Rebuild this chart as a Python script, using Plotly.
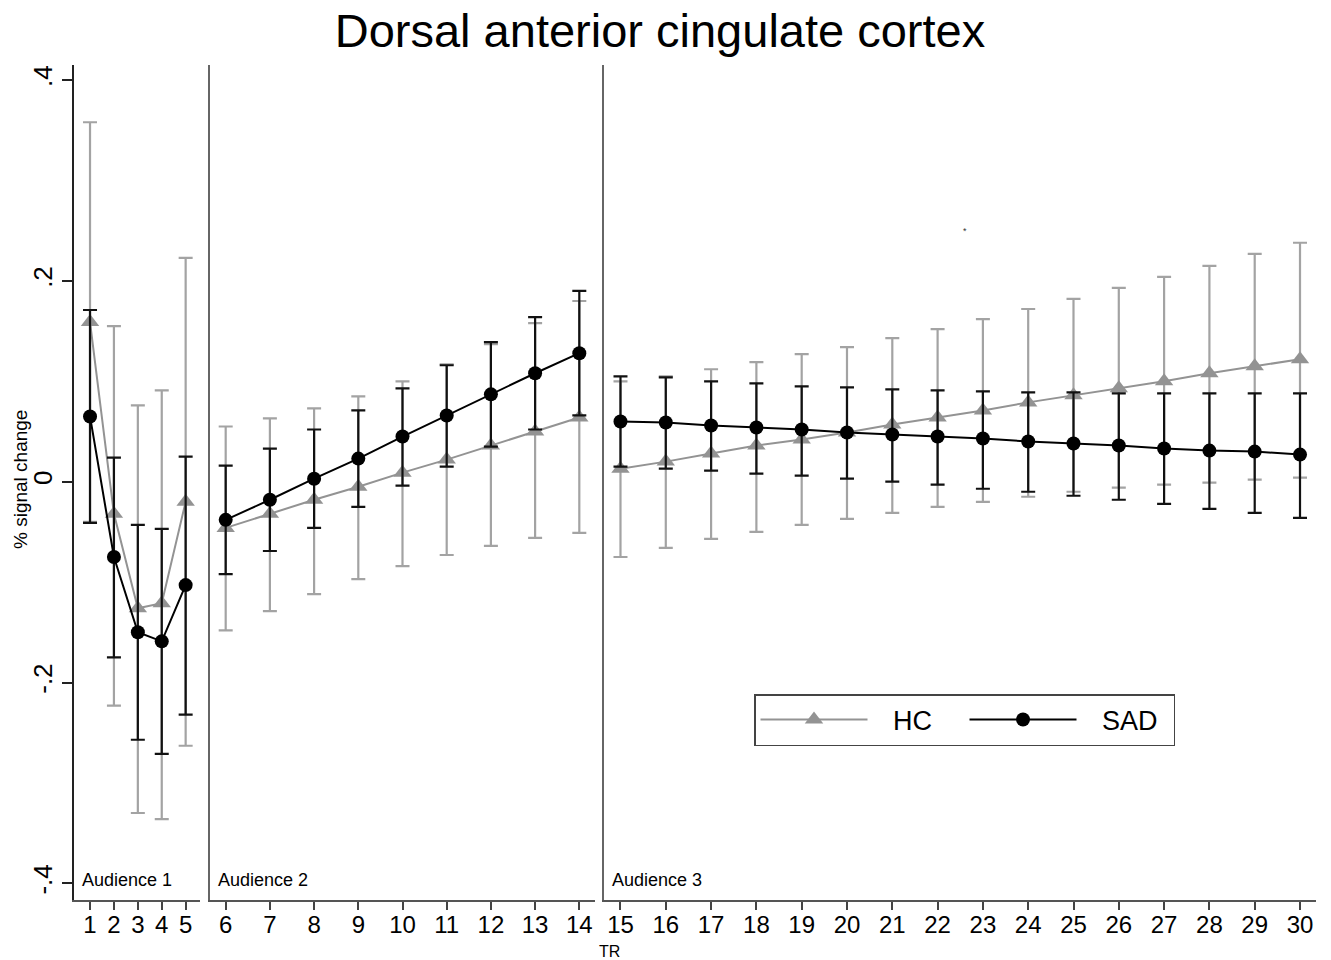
import plotly.graph_objects as go

# ---------------- data ----------------
TR = list(range(1, 31))
panels = [(1, 5), (6, 14), (15, 30)]
panel_labels = ["Audience 1", "Audience 2", "Audience 3"]

hc_mean = [0.159, -0.032, -0.126, -0.121, -0.020,
           -0.046, -0.032, -0.018, -0.005, 0.009, 0.022, 0.036, 0.050, 0.064,
           0.013, 0.020, 0.028, 0.036, 0.042, 0.049, 0.057, 0.064, 0.071, 0.079,
           0.086, 0.093, 0.100, 0.108, 0.115, 0.122]
hc_hi = [0.358, 0.155, 0.076, 0.091, 0.223,
         0.055, 0.063, 0.073, 0.085, 0.100, 0.117, 0.137, 0.158, 0.180,
         0.100, 0.105, 0.112, 0.119, 0.127, 0.134, 0.143, 0.152, 0.162, 0.172,
         0.182, 0.193, 0.204, 0.215, 0.227, 0.238]
hc_lo = [-0.040, -0.223, -0.330, -0.336, -0.263,
         -0.148, -0.129, -0.112, -0.097, -0.084, -0.073, -0.064, -0.056, -0.051,
         -0.075, -0.066, -0.057, -0.050, -0.043, -0.037, -0.031, -0.025, -0.020, -0.015,
         -0.010, -0.006, -0.003, -0.001, 0.002, 0.004]

sad_mean = [0.065, -0.075, -0.150, -0.159, -0.103,
            -0.038, -0.018, 0.003, 0.023, 0.045, 0.066, 0.087, 0.108, 0.128,
            0.060, 0.059, 0.056, 0.054, 0.052, 0.049, 0.047, 0.045, 0.043, 0.040,
            0.038, 0.036, 0.033, 0.031, 0.030, 0.027]
sad_hi = [0.171, 0.024, -0.043, -0.047, 0.025,
          0.016, 0.033, 0.052, 0.071, 0.093, 0.116, 0.139, 0.164, 0.190,
          0.105, 0.104, 0.100, 0.098, 0.095, 0.094, 0.092, 0.091, 0.090, 0.089,
          0.089, 0.088, 0.088, 0.088, 0.088, 0.088]
sad_lo = [-0.041, -0.175, -0.257, -0.271, -0.232,
          -0.092, -0.069, -0.046, -0.025, -0.004, 0.015, 0.035, 0.052, 0.066,
          0.015, 0.013, 0.011, 0.008, 0.006, 0.003, 0.000, -0.003, -0.007, -0.010,
          -0.014, -0.018, -0.022, -0.027, -0.031, -0.036]

y_tickvals = [-0.4, -0.2, 0, 0.2, 0.4]
y_ticktext = ["-.4", "-.2", "0", ".2", ".4"]

# ---------------- styling ----------------
W, H = 1331, 960
FONT = "Liberation Sans, Arial, Helvetica, sans-serif"
HC_COL = "#939393"
HC_ERR = "#a3a3a3"
SAD_COL = "#000000"
SAD_ERR = "#111111"
PAD = "\u00a0\u00a0\u2009"

series = [
    ("HC", hc_mean, hc_hi, hc_lo, HC_COL, HC_ERR, "triangle-up", 16),
    ("SAD", sad_mean, sad_hi, sad_lo, SAD_COL, SAD_ERR, "circle", 14),
]

fig = go.Figure()
axis_ids = ["", "2", "3"]
for name, mean, hi, lo, col, ecol, sym, msz in series:
    for p, (a, b) in enumerate(panels):
        idx = [i for i, t in enumerate(TR) if a <= t <= b]
        xs = [TR[i] for i in idx]
        ys = [mean[i] for i in idx]
        plus = [hi[i] - mean[i] for i in idx]
        minus = [mean[i] - lo[i] for i in idx]
        fig.add_trace(go.Scatter(
            x=xs, y=ys, mode="lines+markers", name=PAD + name,
            legendgroup=name, showlegend=(p == 0),
            xaxis="x" + axis_ids[p], yaxis="y" + axis_ids[p],
            line=dict(color=col, width=2),
            marker=dict(symbol=sym, size=msz, color=col),
            error_y=dict(type="data", symmetric=False, array=plus, arrayminus=minus,
                         color=ecol, thickness=2.2, width=7),
        ))

# plot-area geometry (pixels -> paper fractions)
x_dom = [(74, 200), (210, 595), (603.5, 1316)]
x_rng = [(0.33, 5.60), (5.645, 14.355), (14.625, 30.353)]
y_dom = [1 - 900 / H, 1 - 65 / H]
y_rng = [(481.7 - 900) / 1004, (481.7 - 65) / 1004]

layout = dict(
    width=W, height=H,
    margin=dict(l=0, r=0, t=0, b=0),
    paper_bgcolor="white", plot_bgcolor="white",
    font=dict(family=FONT, color="black"),
    showlegend=True,
    title=dict(text="Dorsal anterior cingulate cortex", x=660 / W, xanchor="center",
               y=1 - 31 / H, yanchor="middle", yref="container",
               font=dict(size=47, family=FONT, color="black")),
    legend=dict(orientation="h", x=754 / W, y=1 - 694 / H, xanchor="left", yanchor="top",
                bordercolor="#444444", borderwidth=1.5, bgcolor="white",
                font=dict(size=27, family=FONT), itemwidth=107,
                entrywidth=87,
                traceorder="normal", tracegroupgap=0),
)

for p in range(3):
    ax = "xaxis" + axis_ids[p]
    a, b = panels[p]
    layout[ax] = dict(
        domain=[x_dom[p][0] / W, x_dom[p][1] / W], range=list(x_rng[p]),
        anchor="y" + axis_ids[p],
        tickmode="array", tickvals=list(range(a, b + 1)),
        ticktext=[str(t) for t in range(a, b + 1)],
        ticks="outside", ticklen=8, tickwidth=1.5, tickcolor="#444444",
        ticklabelstandoff=-6,
        showline=True, linecolor="#555555", linewidth=1.5,
        showgrid=False, zeroline=False,
        tickfont=dict(size=24, family=FONT, color="black"),
        fixedrange=True,
    )
    yax = "yaxis" + axis_ids[p]
    yd = dict(domain=y_dom, range=list(y_rng), anchor="x" + axis_ids[p],
              showgrid=False, zeroline=False, fixedrange=True,
              showline=True, linewidth=1.5)
    if p == 0:
        yd.update(tickmode="array", tickvals=y_tickvals, ticktext=y_ticktext,
                  ticks="outside", ticklen=10, tickwidth=1.5, tickcolor="#222222",
                  tickangle=-90, linecolor="#222222",
                  tickfont=dict(size=26, family=FONT, color="black"))
    else:
        yd.update(matches="y", showticklabels=False, ticks="", linecolor="#666666")
    layout[yax] = yd

annotations = []
for p in range(3):
    annotations.append(dict(text=panel_labels[p], xref="x" + axis_ids[p] + " domain",
                            yref="paper", x=0, y=1 - 880 / H, xanchor="left",
                            yanchor="middle", xshift=6, showarrow=False,
                            font=dict(size=18, family=FONT, color="black")))
annotations.append(dict(text="% signal change", xref="paper", yref="paper",
                        x=20 / W, y=1 - 480 / H, textangle=-90, showarrow=False,
                        xanchor="center", yanchor="middle",
                        font=dict(size=19, family=FONT, color="black")))
annotations.append(dict(text="TR", xref="paper", yref="paper",
                        x=609 / W, y=1 - 951 / H, showarrow=False,
                        xanchor="center", yanchor="middle",
                        font=dict(size=16, family=FONT, color="black")))
annotations.append(dict(text="*", xref="paper", yref="paper",
                        x=965 / W, y=1 - 231 / H, showarrow=False,
                        xanchor="center", yanchor="middle",
                        font=dict(size=9, family=FONT, color="#333333")))
layout["annotations"] = annotations

fig.update_layout(**layout)
fig.write_html("out.html")
